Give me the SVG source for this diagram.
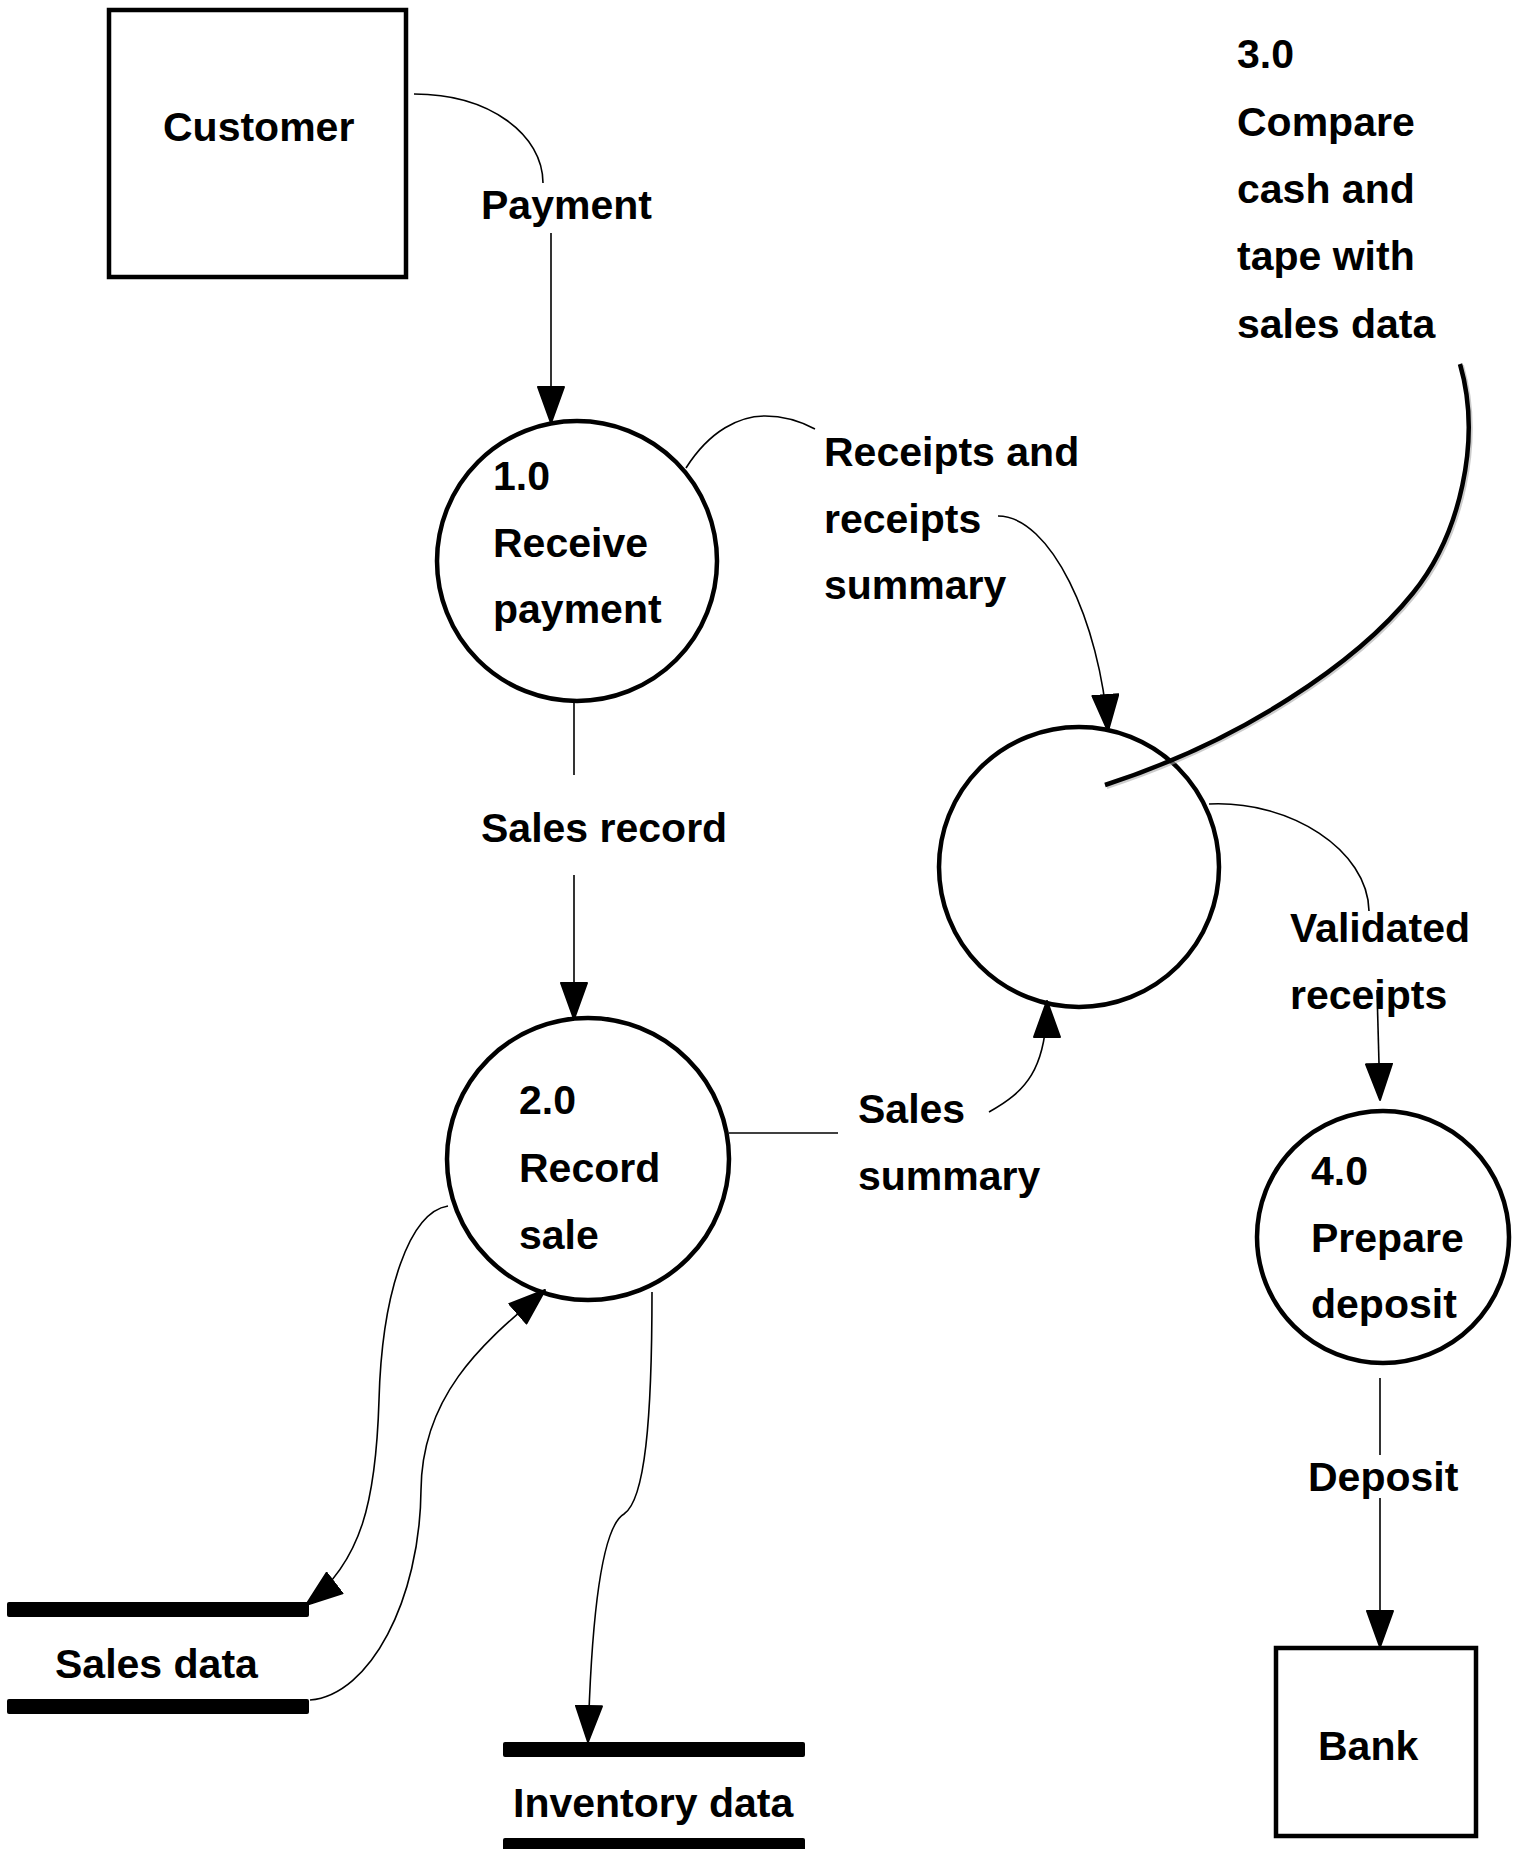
<svg xmlns="http://www.w3.org/2000/svg" width="1513" height="1849" viewBox="0 0 1513 1849">
<style>
  .lbl { font-family: "Liberation Sans", Arial, sans-serif; font-weight: bold; font-size: 41px; fill: #000; }
  .box { fill: #fff; stroke: #000; stroke-width: 4.5; }
  .proc { fill: #fff; stroke: #000; stroke-width: 4.5; }
  .flow { fill: none; stroke: #000; stroke-width: 1.6; }
  .bar { fill: #000; }
</style>
<defs>
  <marker id="arr" markerUnits="userSpaceOnUse" viewBox="0 0 38 28" markerWidth="38" markerHeight="28" refX="37" refY="14" orient="auto">
    <path d="M1,1 L37,14 L1,27 Z" fill="#000" stroke="#000" stroke-width="2" stroke-linejoin="round"/>
  </marker>
</defs>
<rect width="1513" height="1849" fill="#fff"/>

<g id="customer">
  <rect class="box" x="109" y="10" width="297" height="267"/>
  <text class="lbl" x="163" y="141">Customer</text>
</g>

<g id="p1">
  <circle class="proc" cx="577" cy="561" r="140"/>
  <text class="lbl" x="493" y="490">1.0</text>
  <text class="lbl" x="493" y="557">Receive</text>
  <text class="lbl" x="493" y="623">payment</text>
</g>

<g id="p2">
  <circle class="proc" cx="588" cy="1159" r="141"/>
  <text class="lbl" x="519" y="1114">2.0</text>
  <text class="lbl" x="519" y="1182">Record</text>
  <text class="lbl" x="519" y="1249">sale</text>
</g>

<g id="p3">
  <circle class="proc" cx="1079" cy="867" r="140"/>
  <text class="lbl" x="1237" y="68">3.0</text>
  <text class="lbl" x="1237" y="136">Compare</text>
  <text class="lbl" x="1237" y="203">cash and</text>
  <text class="lbl" x="1237" y="270">tape with</text>
  <text class="lbl" x="1237" y="338">sales data</text>
  <path d="M1460,364 C1482,440 1460,535 1413,593 C1357,663 1241,741 1105,785" fill="none" stroke="#aaa" stroke-opacity="0.6" stroke-width="5" transform="translate(1.5,1.5)"/>
  <path d="M1460,364 C1482,440 1460,535 1413,593 C1357,663 1241,741 1105,785" fill="none" stroke="#000" stroke-width="4.5"/>
</g>

<g id="p4">
  <circle class="proc" cx="1383" cy="1237" r="126"/>
  <text class="lbl" x="1311" y="1185">4.0</text>
  <text class="lbl" x="1311" y="1252">Prepare</text>
  <text class="lbl" x="1311" y="1318">deposit</text>
</g>

<g id="bank">
  <rect class="box" x="1276" y="1648" width="200" height="188"/>
  <text class="lbl" x="1318" y="1760">Bank</text>
</g>

<g id="salesdata">
  <rect class="bar" x="7" y="1602" width="302" height="15" rx="2"/>
  <rect class="bar" x="7" y="1699" width="302" height="15" rx="2"/>
  <text class="lbl" x="55" y="1678">Sales data</text>
</g>

<g id="inventorydata">
  <rect class="bar" x="503" y="1742" width="302" height="15" rx="2"/>
  <rect class="bar" x="503" y="1838" width="302" height="15" rx="2"/>
  <text class="lbl" x="513" y="1817">Inventory data</text>
</g>

<g id="connectors">
  <!-- Payment -->
  <path class="flow" d="M414,94 C490,94 543,135 543,183"/>
  <path class="flow" d="M551,233 L551,423" marker-end="url(#arr)"/>
  <text class="lbl" x="481" y="219">Payment</text>

  <!-- Sales record -->
  <path class="flow" d="M574,702 L574,775"/>
  <path class="flow" d="M574,875 L574,1019" marker-end="url(#arr)"/>
  <text class="lbl" x="481" y="842">Sales record</text>

  <!-- Receipts and receipts summary -->
  <path class="flow" d="M686,468 C710,430 740,416 765,416 C785,416 800,421 815,429"/>
  <path class="flow" d="M998,516 C1050,516 1100,620 1108,731" marker-end="url(#arr)"/>
  <text class="lbl" x="824" y="466">Receipts and</text>
  <text class="lbl" x="824" y="533">receipts</text>
  <text class="lbl" x="824" y="599">summary</text>

  <!-- Sales summary -->
  <path class="flow" d="M729,1133 L838,1133"/>
  <path class="flow" d="M989,1112 C1025,1092 1047,1070 1047,1001" marker-end="url(#arr)"/>
  <text class="lbl" x="858" y="1123">Sales</text>
  <text class="lbl" x="858" y="1190">summary</text>

  <!-- Validated receipts -->
  <path class="flow" d="M1209,804 C1290,800 1368,850 1369,911"/>
  <path class="flow" d="M1377,990 L1380,1100" marker-end="url(#arr)"/>
  <text class="lbl" x="1290" y="942">Validated</text>
  <text class="lbl" x="1290" y="1009">receipts</text>

  <!-- Deposit -->
  <path class="flow" d="M1380,1378 L1380,1455"/>
  <path class="flow" d="M1380,1498 L1380,1647" marker-end="url(#arr)"/>
  <text class="lbl" x="1308" y="1491">Deposit</text>

  <!-- 2.0 to Sales data -->
  <path class="flow" d="M448,1206 C410,1212 382,1290 379,1400 C376,1500 362,1562 306,1605" marker-end="url(#arr)"/>
  <!-- Sales data to 2.0 -->
  <path class="flow" d="M310,1700 C370,1695 420,1600 421,1490 C422,1390 490,1338 545,1290" marker-end="url(#arr)"/>
  <!-- 2.0 to Inventory data -->
  <path class="flow" d="M652,1292 C652,1420 645,1500 624,1514 C605,1525 592,1590 588,1742" marker-end="url(#arr)"/>
</g>
</svg>
